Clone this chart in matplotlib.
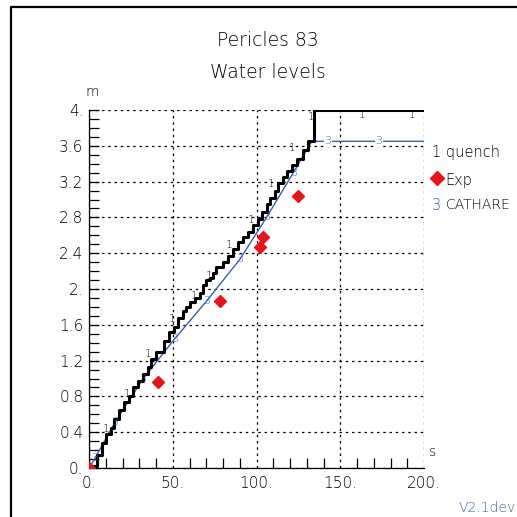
import matplotlib
matplotlib.use("Agg")
import matplotlib.pyplot as plt
from matplotlib.lines import Line2D

plt.rcParams["font.family"] = "DejaVu Sans"
plt.rcParams["font.weight"] = "light"

# quench: staircase, (time s, level m) with level held until next time
quench_t = [0, 5, 8, 10, 13, 15, 18, 21, 24, 26, 29, 32, 35, 37, 40, 45, 48, 51, 53, 56,
            58, 60, 63, 66, 68, 70, 72, 74, 76, 80, 83, 86, 89, 92, 95, 98, 101, 103, 106,
            108, 111, 113, 116, 118, 121, 124, 128, 131, 134.5, 200]
quench_y = [0.02, 0.15, 0.28, 0.38, 0.45, 0.55, 0.65, 0.74, 0.80, 0.90, 0.97, 1.05, 1.13,
            1.22, 1.30, 1.42, 1.52, 1.58, 1.68, 1.75, 1.80, 1.85, 1.90, 1.95, 2.05, 2.10,
            2.12, 2.18, 2.25, 2.30, 2.37, 2.45, 2.52, 2.58, 2.64, 2.72, 2.78, 2.86, 2.95,
            3.02, 3.10, 3.18, 3.25, 3.32, 3.38, 3.45, 3.55, 3.65, 4.0, 4.0]
quench_lab_t = [10.2, 22.5, 35.5, 49.5, 62.5, 71.5, 83.5, 96.5, 108.5, 121.5, 132.5, 163, 193]
quench_lab_y = [0.44, 0.83, 1.27, 1.67, 1.92, 2.15, 2.49, 2.77, 3.17, 3.57, 3.92, 3.94, 3.94]

# CATHARE
cath_t = [0, 3.6, 15.5, 32, 51, 70.4, 90, 106, 122, 133, 200]
cath_y = [0.0, 0.11, 0.51, 0.99, 1.44, 1.87, 2.33, 2.80, 3.30, 3.65, 3.65]
cath_lab_t = [3.6, 15.5, 32, 51, 70.4, 90, 106, 122, 142.7, 173]
cath_lab_y = [0.11, 0.51, 0.99, 1.44, 1.87, 2.33, 2.80, 3.30, 3.65, 3.65]

# experiment
exp_t = [0, 41.2, 78.2, 102, 104, 125]
exp_y = [0.0, 0.96, 1.87, 2.47, 2.58, 3.04]

xticks = [0, 50, 100, 150, 200]
xtick_labels = ["0.", "50.", "100.", "150.", "200."]
yticks = [0, 0.4, 0.8, 1.2, 1.6, 2.0, 2.4, 2.8, 3.2, 3.6, 4.0]
ytick_labels = ["0.", "0.4", "0.8", "1.2", "1.6", "2.", "2.4", "2.8", "3.2", "3.6", "4."]

BLUE = "#3c5fa8"
RED = "#e8141c"
W = 517.0

fig = plt.figure(figsize=(5.17, 5.17), dpi=100)
ax = fig.add_axes([89 / W, 49 / W, 335 / W, 358 / W])

ax.plot(cath_t, cath_y, color=BLUE, lw=1.0, zorder=3)
ax.step(quench_t, quench_y, where="post", color="black", lw=2.2, zorder=4)
ax.plot(exp_t, exp_y, "D", color=RED, ms=6.5, ls="none", zorder=6)

for t, y in zip(cath_lab_t, cath_lab_y):
    ax.text(t, y, "3", color=BLUE, fontsize=8, ha="center", va="center", zorder=5,
            bbox=dict(fc="white", ec="none", pad=0.3) if t > 135 else None)
for t, y in zip(quench_lab_t, quench_lab_y):
    ax.text(t, y, "1", color="black", fontsize=7.5, ha="center", va="center", zorder=5)

ax.set_xlim(0, 200)
ax.set_ylim(0, 4)
ax.set_xticks(xticks)
ax.set_xticklabels(xtick_labels)
ax.set_yticks(yticks)
ax.set_yticklabels(ytick_labels)
ax.set_xticks(range(0, 201, 10), minor=True)
ax.set_yticks([i / 10 for i in range(41)], minor=True)
ax.tick_params(which="both", direction="in", length=7, width=0.9, labelsize=11,
               top=False, right=False)
ax.tick_params(axis="x", which="major", length=0, pad=6)
ax.tick_params(axis="y", which="major", length=7, pad=4)
ax.grid(True, which="major", color="black", lw=0.9, ls=(0, (2, 3)))
ax.spines["top"].set_visible(False)
ax.spines["right"].set_visible(False)
ax.spines["left"].set_linewidth(0.9)
ax.spines["bottom"].set_linewidth(0.9)

ax.text(-0.01, 1.05, "m", transform=ax.transAxes, fontsize=10, ha="left", va="center")
ax.text(1.015, 0.045, "s", transform=ax.transAxes, fontsize=10, ha="left", va="center")

fig.text(268 / W, 1 - 40 / W, "Pericles 83", fontsize=13.5, ha="center", va="center")
fig.text(268 / W, 1 - 73 / W, "Water levels", fontsize=13.5, ha="center", va="center")

# legend drawn by hand
fig.text(432 / W, 1 - 153 / W, "1 quench", fontsize=10.5, ha="left", va="center")
fig.add_artist(Line2D([437 / W], [1 - 178 / W], marker="D", color=RED, ms=7.5, ls="none"))
fig.text(445 / W, 1 - 180 / W, "Exp", fontsize=10.5, ha="left", va="center")
fig.text(432 / W, 1 - 205 / W, "3", color=BLUE, fontsize=10.5, ha="left", va="center")
fig.text(446 / W, 1 - 205 / W, "CATHARE", fontsize=10, ha="left", va="center")

fig.text(459 / W, 1 - 508 / W, "V2.1dev", color=BLUE, fontsize=10, ha="left", va="center")

# outer frame, partly cut by the image edge
fig.add_artist(Line2D([11 / W, 11 / W, 1.0], [0.0, 1 - 7 / W, 1 - 7 / W],
                      color="black", lw=1.6))

fig.savefig("out.png", dpi=100)
